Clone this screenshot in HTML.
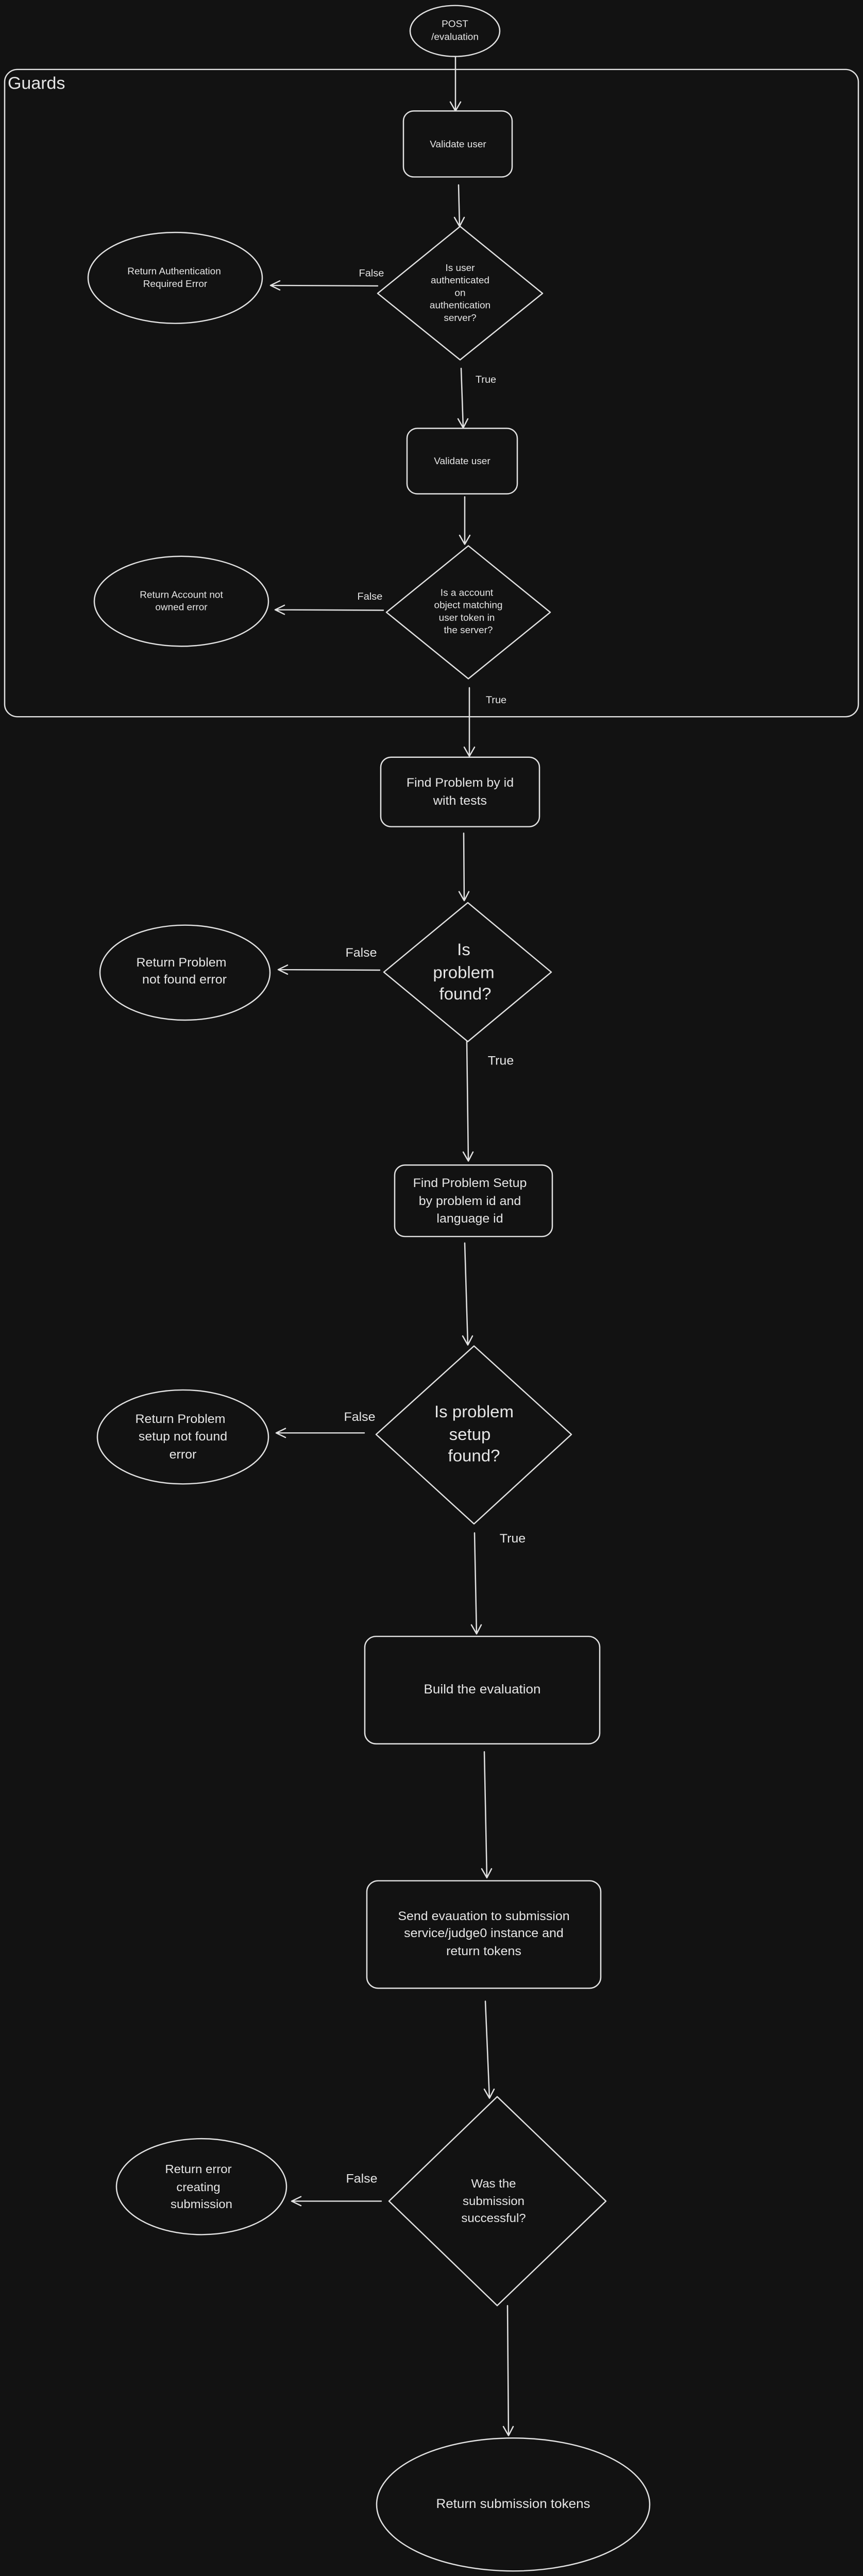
<!DOCTYPE html>
<html><head><meta charset="utf-8"><style>
html,body{margin:0;padding:0;background:#121212;width:100%;height:100%;overflow:hidden;}
svg{display:block;position:absolute;left:0;top:0;width:100vw;height:100vh;}
text{font-family:"Liberation Sans",sans-serif;fill:#e6e6e6;text-anchor:middle;}
.s{fill:none;stroke:#e2e2e2;stroke-width:2.5;stroke-linecap:round;stroke-linejoin:round;}
</style></head><body>
<svg viewBox="0 0 1675 5154" preserveAspectRatio="none" xmlns="http://www.w3.org/2000/svg">
<rect width="1675" height="5154" fill="#121212"/>

<ellipse class="s" cx="883" cy="62" rx="87" ry="51"/>
<text x="883" y="54" font-size="19">POST</text>
<text x="883" y="80" font-size="19">/evaluation</text>

<rect class="s" x="9" y="139" width="1657" height="1295" rx="25"/>
<text x="15" y="178" font-size="34" style="text-anchor:start">Guards</text>

<g class="s">
<path d="M884 113 L884 222 M874 204 L884 222 L894 204"/>
<rect x="783" y="222" width="211" height="132" rx="20"/>
<path d="M890 370 L892 453 M882 435 L892 453 L901 435"/>
<path d="M893 453 L1053 587 L893 720 L733 587 Z"/>
<ellipse cx="340" cy="556" rx="169" ry="91"/>
<path d="M733 572 L525 571 M543 562 L525 571 L543 580"/>
<path d="M895 737 L899 856 M889 838 L899 856 L908 838"/>
<rect x="790" y="857" width="214" height="131" rx="20"/>
<path d="M902 994 L902 1089 M892 1071 L902 1089 L912 1071"/>
<path d="M909 1092 L1068 1225 L909 1358 L750 1225 Z"/>
<ellipse cx="352" cy="1203" rx="169" ry="90"/>
<path d="M744 1221 L534 1220 M552 1211 L534 1220 L552 1229"/>
<path d="M911 1376 L911 1513 M901 1495 L911 1513 L921 1495"/>

<rect x="739" y="1515" width="308" height="139" rx="20"/>
<path d="M900 1667 L901 1802 M891 1784 L901 1802 L910 1784"/>
<path d="M908 1806 L1070 1945 L908 2084 L745 1945 Z"/>
<ellipse cx="359" cy="1946" rx="165" ry="95"/>
<path d="M737 1941 L540 1940 M558 1931 L540 1940 L558 1949"/>
<path d="M906 2084 L909 2323 M899 2305 L909 2323 L918 2305"/>
<rect x="766" y="2331" width="306" height="143" rx="20"/>
<path d="M902 2487 L908 2691 M898 2673 L908 2691 L917 2673"/>
<path d="M920 2693 L1109 2870 L920 3049 L730 2870 Z"/>
<ellipse cx="355" cy="2875" rx="166" ry="94"/>
<path d="M707 2867 L536 2867 M554 2858 L536 2867 L554 2876"/>
<path d="M921 3067 L925 3269 M915 3251 L925 3269 L934 3251"/>

<rect x="708" y="3274" width="456" height="215" rx="22"/>
<path d="M940 3505 L945 3757 M935 3739 L945 3757 L954 3739"/>
<rect x="712" y="3763" width="454" height="215" rx="22"/>
<path d="M942 4004 L950 4198 M940 4180 L950 4198 L959 4180"/>
<path d="M965 4195 L1176 4404 L965 4613 L755 4404 Z"/>
<ellipse cx="391" cy="4375" rx="165" ry="96"/>
<path d="M740 4404 L566 4404 M584 4395 L566 4404 L584 4413"/>
<path d="M985 4613 L987 4873 M977 4855 L987 4873 L996 4855"/>
<ellipse cx="996" cy="5011" rx="265" ry="133"/>
</g>

<text x="889" y="295" font-size="19">Validate user</text>
<text x="893" y="542" font-size="19">Is user</text>
<text x="893" y="567" font-size="19">authenticated</text>
<text x="893" y="592" font-size="19">on</text>
<text x="893" y="617" font-size="19">authentication</text>
<text x="893" y="642" font-size="19">server?</text>
<text x="338" y="549" font-size="19">Return Authentication</text>
<text x="340" y="574" font-size="19">Required Error</text>
<text x="721" y="553" font-size="20">False</text>
<text x="943" y="766" font-size="20">True</text>
<text x="897" y="929" font-size="19">Validate user</text>
<text x="906" y="1192" font-size="19">Is a account</text>
<text x="909" y="1217" font-size="19">object matching</text>
<text x="906" y="1242" font-size="19">user token in</text>
<text x="909" y="1267" font-size="19">the server?</text>
<text x="352" y="1196" font-size="19">Return Account not</text>
<text x="352" y="1221" font-size="19">owned error</text>
<text x="718" y="1200" font-size="20">False</text>
<text x="963" y="1407" font-size="20">True</text>

<text x="893" y="1574" font-size="25">Find Problem by id</text>
<text x="893" y="1610" font-size="25">with tests</text>
<text x="900" y="1911" font-size="33">Is</text>
<text x="900" y="1957" font-size="33">problem</text>
<text x="903" y="2000" font-size="33">found?</text>
<text x="352" y="1934" font-size="25">Return Problem</text>
<text x="358" y="1968" font-size="25">not found error</text>
<text x="701" y="1914" font-size="25">False</text>
<text x="972" y="2130" font-size="25">True</text>
<text x="912" y="2375" font-size="25">Find Problem Setup</text>
<text x="912" y="2411" font-size="25">by problem id and</text>
<text x="912" y="2446" font-size="25">language id</text>
<text x="920" y="2836" font-size="33">Is problem</text>
<text x="912" y="2881" font-size="33">setup</text>
<text x="920" y="2924" font-size="33">found?</text>
<text x="350" y="2847" font-size="25">Return Problem</text>
<text x="355" y="2882" font-size="25">setup not found</text>
<text x="355" y="2918" font-size="25">error</text>
<text x="698" y="2843" font-size="25">False</text>
<text x="995" y="3086" font-size="25">True</text>

<text x="936" y="3388" font-size="26">Build the evaluation</text>
<text x="939" y="3842" font-size="25">Send evauation to submission</text>
<text x="939" y="3876" font-size="25">service/judge0 instance and</text>
<text x="939" y="3912" font-size="25">return tokens</text>
<text x="958" y="4377" font-size="24">Was the</text>
<text x="958" y="4412" font-size="24">submission</text>
<text x="958" y="4446" font-size="24">successful?</text>
<text x="385" y="4348" font-size="24">Return error</text>
<text x="385" y="4384" font-size="24">creating</text>
<text x="391" y="4418" font-size="24">submission</text>
<text x="702" y="4367" font-size="25">False</text>
<text x="996" y="5018" font-size="26">Return submission tokens</text>
</svg>
</body></html>
